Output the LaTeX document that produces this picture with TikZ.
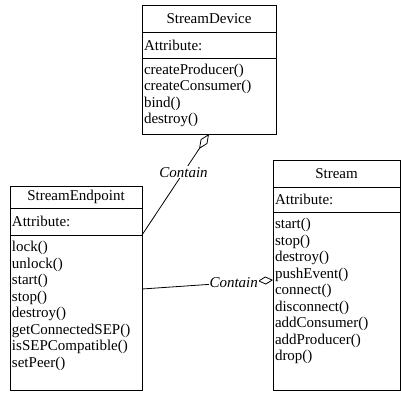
\documentclass[tikz,border=0pt]{standalone}
\usepackage{fontspec}
\setmainfont{Liberation Serif}
\usepackage{tikz}
\usetikzlibrary{positioning}
\usetikzlibrary{arrows.meta}

\begin{document}
\begin{tikzpicture}[x=1pt,y=-1pt,line width=0.8pt,
  classname/.style={draw, outer sep=0pt, anchor=north west, minimum width=#1,
    font=\fontsize{15}{16.5}\selectfont},
  attrbox/.style={draw, outer sep=0pt, inner xsep=2pt, text width=#1, align=left,
    font=\fontsize{15}{16.5}\selectfont},
  opbox/.style 2 args={draw, outer sep=0pt, inner xsep=2pt, inner ysep=3pt,
    text width=#1, align=left, text height=13.5pt, text depth=#2,
    font=\fontsize{15}{16.5}\selectfont},
  contain/.style={fill=white, inner sep=1pt, font=\fontsize{15}{16.5}\selectfont\itshape}]
\useasboundingbox (0,0) rectangle (401,393);

% StreamDevice
\node [classname=134pt, minimum height=27pt] (sdname) at (142,5) {StreamDevice};
\node [attrbox=130pt, minimum height=26pt, below=0pt of sdname] (sdattr) {Attribute:};
\node [opbox={130pt}{56.5pt}, below=0pt of sdattr] (sdops)
  {createProducer()\\createConsumer()\\bind()\\destroy()};

% StreamEndpoint
\node [classname=132pt, minimum height=22pt] (sepname) at (10,186) {StreamEndpoint};
\node [attrbox=128pt, minimum height=27pt, below=0pt of sepname] (sepattr) {Attribute:};
\node [opbox={128pt}{135.5pt}, below=0pt of sepattr] (sepops)
  {lock()\\unlock()\\start()\\stop()\\destroy()\\getConnectedSEP()\\isSEPCompatible()\\setPeer()};

% Stream
\node [classname=127pt, minimum height=27pt] (sname) at (273,160) {Stream};
\node [attrbox=123pt, minimum height=25pt, below=0pt of sname] (sattr) {Attribute:};
\node [opbox={123pt}{158.5pt}, below=0pt of sattr] (sops)
  {start()\\stop()\\destroy()\\pushEvent()\\connect()\\disconnect()\\addConsumer()\\addProducer()\\drop()};

% aggregations
\draw [-{Diamond[open,length=18pt,width=8pt]}] (sepattr.south east)
  -- node [contain, pos=0.62] (conta) {Contain} (sdops.south);
\draw [-{Diamond[open,length=15pt,width=8pt]}] ([yshift=23.5pt]sepops.east)
  -- node [contain, pos=0.7] (contb) {Contain} ([yshift=21pt]sops.west);
\end{tikzpicture}
\end{document}
